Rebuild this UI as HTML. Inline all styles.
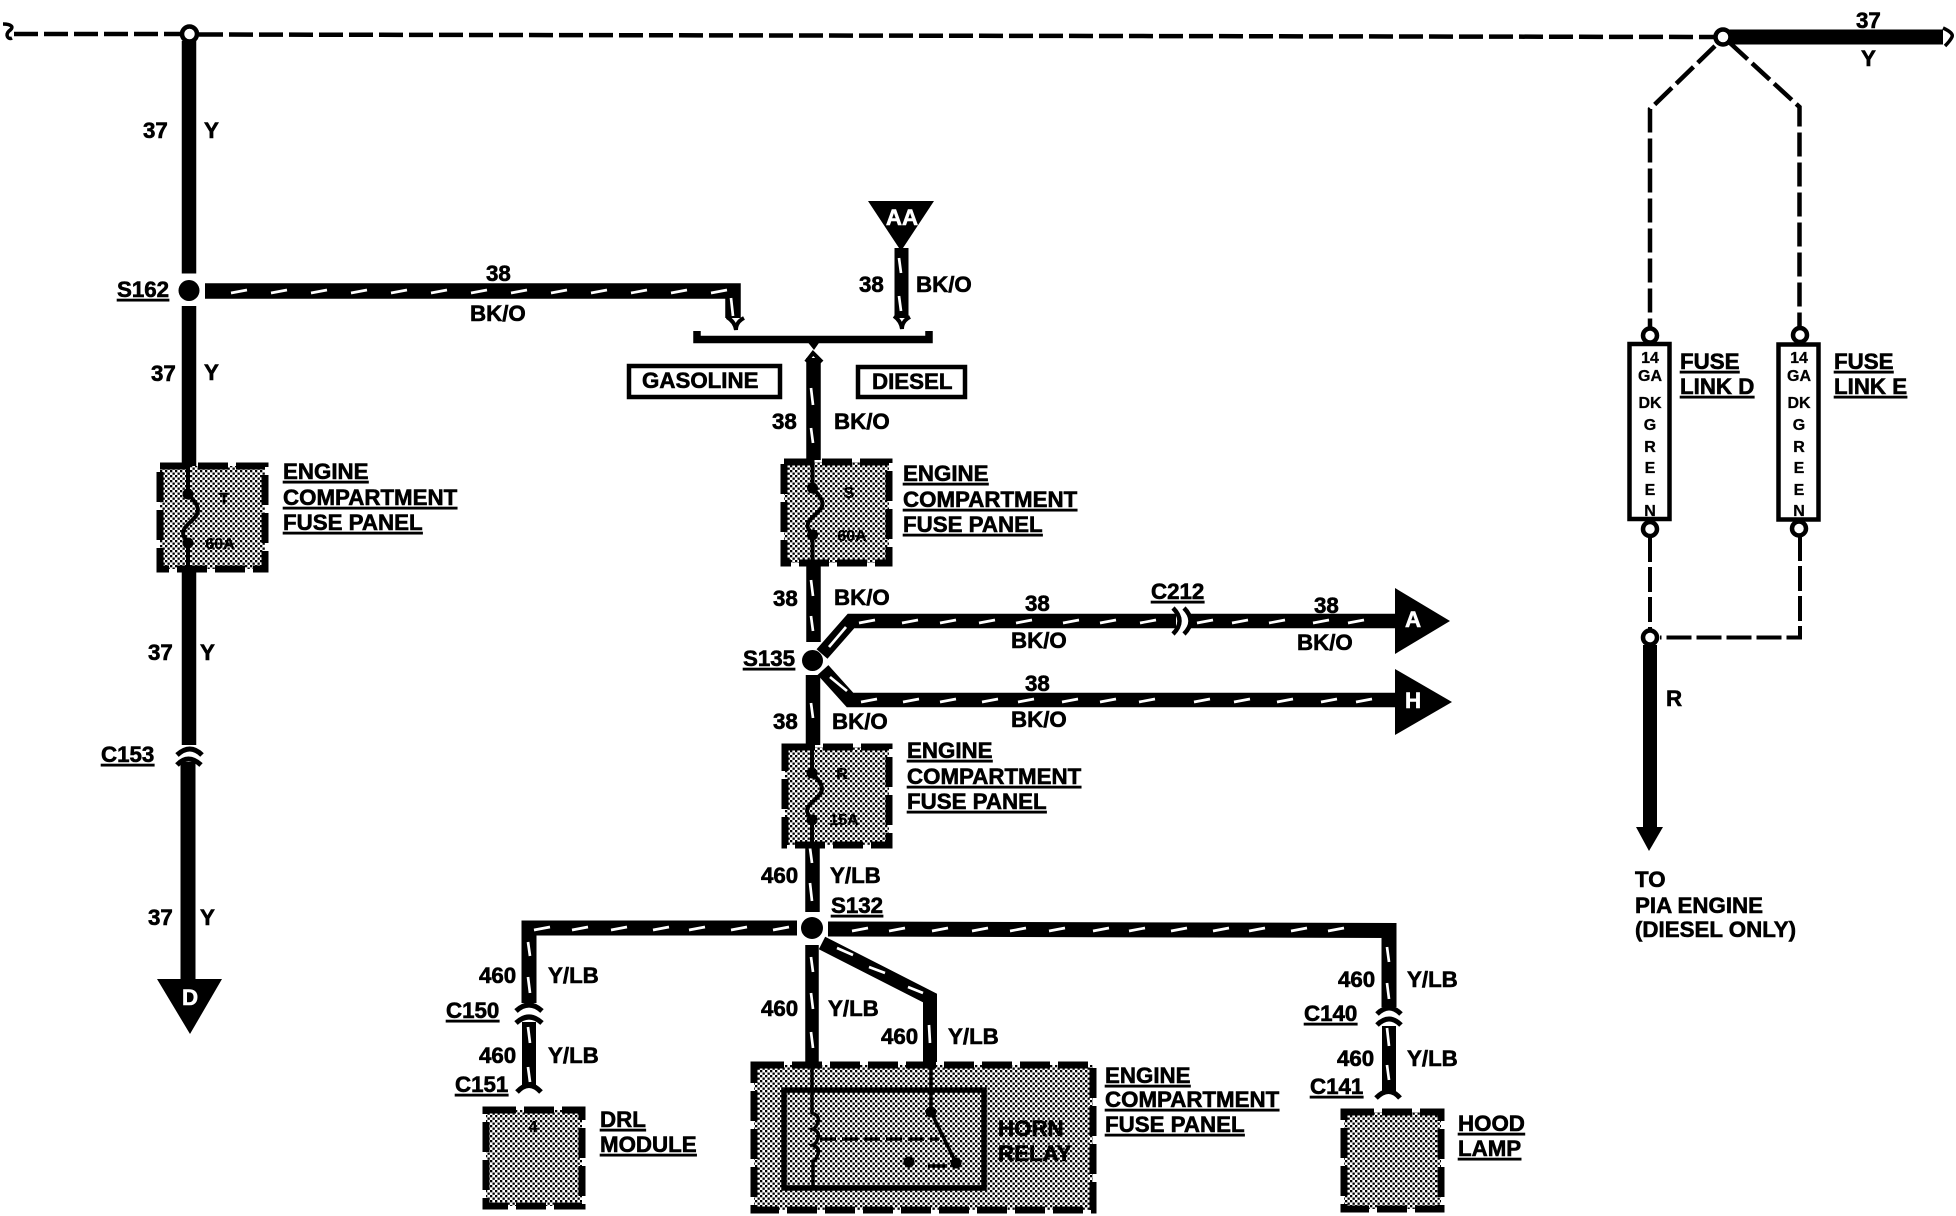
<!DOCTYPE html>
<html><head><meta charset="utf-8"><style>
html,body{margin:0;padding:0;background:#fff;width:1956px;height:1216px;overflow:hidden}
svg{display:block}
text{font-family:"Liberation Sans",sans-serif;font-weight:bold;font-size:22.3px;fill:#000;stroke:#000;stroke-width:.6px}
.u{text-decoration:underline}
.w{fill:#fff;stroke:#fff}
.s{font-size:16px;stroke-width:.3px}
.m{text-anchor:middle}
.k{stroke:#000;fill:none}
.h{stroke:#fff;stroke-width:2.7;fill:none}
.d{stroke:#000;fill:none;stroke-width:4.5;stroke-dasharray:24 6}
.p{fill:url(#dots);stroke:#000;stroke-width:7;stroke-dasharray:30 8}
</style></head><body>
<svg width="1956" height="1216" viewBox="0 0 1956 1216" xmlns="http://www.w3.org/2000/svg">
<defs><pattern id="dots" width="5" height="5" patternUnits="userSpaceOnUse"><rect width="5" height="5" fill="#fff"/><rect width="2.300" height="2.300" fill="#000"/><rect x="2.500" y="2.500" width="2.300" height="2.300" fill="#000"/></pattern></defs>
<rect width="1956" height="1216" fill="#fff"/>

<!-- top bus -->
<path class="k" stroke-width="3.500" d="M3 24C11 24 15 27 9 31C5 35 8 40 12 38"/>
<path class="d" d="M14 34H182"/>
<path class="d" d="M199 34.500L1714 37"/>
<circle cx="189.500" cy="34" r="7.500" fill="#fff" stroke="#000" stroke-width="4.500"/>
<path class="k" stroke-width="15" d="M1729 37H1943"/>
<path class="k" stroke-width="3.500" d="M1943 28Q1954 33 1952 37Q1950 41 1945 46"/>
<circle cx="1723" cy="37" r="7.500" fill="#fff" stroke="#000" stroke-width="4.500"/>
<text x="1856" y="28">37</text><text x="1861" y="66">Y</text>

<!-- left column -->
<path class="k" stroke-width="14.500" d="M189 41V273.500M189 306V466M189 572V745"/>
<path class="k" stroke-width="15" d="M188 762V980"/>
<circle cx="189" cy="290.500" r="10.500"/>
<text x="143" y="138">37</text><text x="204" y="138">Y</text>
<text x="151" y="381">37</text><text x="204" y="380">Y</text>
<text class="u" x="117" y="297">S162</text>
<rect class="p" x="160" y="466" width="105" height="103"/>
<path class="k" stroke-width="4" d="M188 463V494c10 10 12 16 8 22c-6 8-16 12-12 21l4 6V572"/>
<circle cx="188" cy="494" r="5.500"/><circle cx="188" cy="543" r="5.500"/>
<text class="s m" x="224" y="504">T</text><text class="s m" x="220" y="549">60A</text>
<text class="u" x="283" y="479">ENGINE</text><text class="u" x="283" y="505">COMPARTMENT</text><text class="u" x="283" y="530">FUSE PANEL</text>
<text x="148" y="660">37</text><text x="200" y="660">Y</text>
<text class="u" x="101" y="762">C153</text>
<path class="k" stroke-width="5" d="M177 755Q190 743 202 755M177 765Q188 753 201 765"/>
<text x="148" y="925">37</text><text x="200" y="925">Y</text>
<path d="M157 979H222L190 1034Z"/>
<text class="w m" x="190" y="1005">D</text>

<!-- S162 to bracket -->
<path class="k" stroke-width="15.500" d="M205 291H733V318"/>
<path class="h" d="M231 293l16-3m24 3l16-3m24 3l16-3m24 3l16-3m24 3l16-3m24 3l16-3m24 3l16-3m24 3l16-3m24 3l16-3m24 3l16-3m24 3l16-3m24 3l16-3m24 3l16-3"/>
<path class="h" d="M731 298l2 18"/>
<path class="k" stroke-width="4" d="M727 317Q735 322 736 330Q736 322 744 318"/>
<text x="486" y="281">38</text><text x="470" y="321">BK/O</text>

<!-- AA -->
<path d="M868 201H934L901 251Z"/>
<text class="w m" x="902" y="225">AA</text>
<path class="k" stroke-width="14" d="M901.500 248V318"/>
<path class="h" d="M899 258l2 15m-2 23l2 15"/>
<path class="k" stroke-width="4" d="M894 316Q901 321 902 329Q902 321 910 317"/>
<text x="859" y="292">38</text><text x="916" y="292">BK/O</text>

<!-- bracket -->
<path class="k" stroke-width="7.500" d="M697 331V339.500H929V331"/>
<path d="M806 340L814 350L821 340Z"/>

<!-- center column -->
<path class="k" stroke-width="14.500" d="M813.500 358V460M813.500 566V642M813 675V745M812.500 848V912"/>
<path class="k" stroke-width="4" d="M806 362L813 353L822 362"/>
<path class="h" d="M811 388l2 17m-2 23l2 15M811 580l2 16m-2 20l2 15M811 703l2 15M810 848l2 15m-2 20l2 18"/>
<rect x="629" y="366" width="151" height="31" fill="#fff" stroke="#000" stroke-width="4.500"/>
<text x="642" y="388" font-size="21.500">GASOLINE</text>
<rect x="858" y="367" width="107" height="30" fill="#fff" stroke="#000" stroke-width="4.500"/>
<text x="872" y="389">DIESEL</text>
<text x="772" y="429">38</text><text x="834" y="429">BK/O</text>

<rect class="p" x="784" y="462" width="105" height="101"/>
<path class="k" stroke-width="4" d="M812.500 458V488c10 10 12 16 8 21c-6 8-16 12-12 20l4 6V566"/>
<circle cx="812.500" cy="488" r="5.500"/><circle cx="812.500" cy="535" r="5.500"/>
<text class="s m" x="849" y="498">S</text><text class="s m" x="852" y="541">60A</text>
<text class="u" x="903" y="481">ENGINE</text><text class="u" x="903" y="507">COMPARTMENT</text><text class="u" x="903" y="532">FUSE PANEL</text>

<text x="773" y="606">38</text><text x="834" y="605">BK/O</text>
<circle cx="812.500" cy="660.500" r="10.500"/>
<text class="u" x="743" y="666">S135</text>
<text x="773" y="729">38</text><text x="832" y="729">BK/O</text>

<!-- branch A -->
<path class="k" stroke-width="14.500" d="M822 654L851 621H1176M1190 621H1396"/>
<path class="k" stroke-width="4.500" d="M1173 608Q1186 621 1173 634M1184 608Q1197 621 1184 634"/>
<path class="h" d="M829 647L846 627"/>
<path class="h" d="M859 623l16-3m27 3l16-3m22 3l16-3m23 3l16-3m21 3l16-3m31 3l16-3m21 3l16-3m24 3l16-3M1197 623l16-3m19 3l16-3m21 3l16-3m28 3l16-3m19 3l16-3"/>
<path d="M1395 588L1450 621L1395 654Z"/>
<text class="w" x="1405" y="627">A</text>
<text x="1025" y="611">38</text><text x="1011" y="648">BK/O</text>
<text class="u" x="1151" y="599">C212</text>
<text x="1314" y="613">38</text><text x="1297" y="650">BK/O</text>

<!-- branch H -->
<path class="k" stroke-width="14.500" d="M823 670L850 700H1396"/>
<path class="h" d="M830 677L847 691"/>
<path class="h" d="M861 702l16-3m26 3l16-3m21 3l16-3m26 3l16-3m20 3l16-3m28 3l16-3m22 3l16-3m23 3l16-3m39 3l16-3m24 3l16-3m27 3l16-3m28 3l16-3m19 3l16-3"/>
<path d="M1395 669L1452 702L1395 735Z"/>
<text class="w" x="1405" y="708">H</text>
<text x="1025" y="691">38</text><text x="1011" y="727">BK/O</text>

<!-- panel 3 -->
<rect class="p" x="785" y="747" width="104" height="98"/>
<path class="k" stroke-width="4" d="M812 743V773c10 10 12 16 8 21c-6 8-16 12-12 20l4 6V848"/>
<circle cx="812" cy="773" r="5.500"/><circle cx="812" cy="820" r="5.500"/>
<text class="s m" x="842" y="779">R</text><text class="s m" x="844" y="825">15A</text>
<text class="u" x="907" y="758">ENGINE</text><text class="u" x="907" y="784">COMPARTMENT</text><text class="u" x="907" y="809">FUSE PANEL</text>

<text x="761" y="883">460</text><text x="830" y="883">Y/LB</text>
<text class="u" x="831" y="913">S132</text>
<circle cx="812" cy="928" r="11"/>

<!-- left drop -->
<path class="k" stroke-width="15" d="M797 928H529V1003"/>
<path class="k" stroke-width="14" d="M529 1022V1086"/>
<path class="h" d="M534 930l16-3m22 3l16-3m23 3l16-3m26 3l16-3m20 3l16-3m26 3l16-3m26 3l16-3"/>
<path class="h" d="M528 942l2 14m-2 21l2 16m-2 34l2 16m-2 24l2 15"/>
<path class="k" stroke-width="5" d="M516 1011Q529 999 542 1011M516 1023Q529 1011 542 1023M517 1092Q529 1079 541 1092"/>
<text x="479" y="983">460</text><text x="548" y="983">Y/LB</text>
<text class="u" x="446" y="1018">C150</text>
<text x="479" y="1063">460</text><text x="548" y="1063">Y/LB</text>
<text class="u" x="455" y="1092">C151</text>
<rect class="p" x="486" y="1110" width="96" height="96"/>
<text class="s m" x="533" y="1132">4</text>
<text class="u" x="600" y="1127">DRL</text><text class="u" x="600" y="1152">MODULE</text>

<!-- right drop -->
<path class="k" stroke-width="15" d="M828 929L1389 930.500V1007"/>
<path class="k" stroke-width="14" d="M1389 1026V1093"/>
<path class="h" d="M852 931l16-3m21 3l16-3m27 3l16-3m24 3l16-3m22 3l16-3m23 3l16-3m28 3l16-3m20 3l16-3m26 3l16-3m26 3l16-3m20 3l16-3m26 3l16-3m21 3l16-3"/>
<path class="h" d="M1387 947l2 15m-2 21l2 16m-2 29l2 18m-2 19l2 15"/>
<path class="k" stroke-width="5" d="M1377 1014Q1389 1002 1401 1014M1377 1025Q1389 1013 1401 1025M1376 1098Q1389 1085 1400 1098"/>
<text x="1338" y="987">460</text><text x="1407" y="987">Y/LB</text>
<text class="u" x="1304" y="1021">C140</text>
<text x="1337" y="1066">460</text><text x="1407" y="1066">Y/LB</text>
<text class="u" x="1310" y="1094">C141</text>
<rect class="p" x="1344" y="1112" width="97" height="97"/>
<text class="u" x="1458" y="1131">HOOD</text><text class="u" x="1458" y="1156">LAMP</text>

<!-- center bottom -->
<path class="k" stroke-width="13.500" d="M812 945V1062"/>
<path class="h" d="M811 957l2 15m-2 21l2 16m-2 23l2 16"/>
<path class="k" stroke-width="14" d="M822 943L930 998V1062"/>
<path class="h" d="M837 948l16 7m16 12l16 6m23 14l15 6M929 1025l1 18"/>
<text x="761" y="1016">460</text><text x="828" y="1016">Y/LB</text>
<text x="881" y="1044">460</text><text x="948" y="1044">Y/LB</text>
<rect class="p" x="754" y="1065" width="339" height="145"/>
<rect x="784" y="1090" width="200" height="98" fill="none" stroke="#000" stroke-width="5.500"/>
<path class="k" stroke-width="3.500" d="M812 1061V1113q8 3 6 9t-5 7q7 3 5 9t-5 7q7 3 5 9t-5 7V1190"/>
<path class="k" stroke-width="3.500" d="M931 1061V1112L956 1163"/>
<circle cx="931" cy="1112" r="5.500"/><circle cx="956" cy="1163" r="5.500"/><circle cx="909" cy="1162" r="5.500"/>
<path class="k" stroke-width="3.500" stroke-dasharray="16 6" d="M820 1139H939"/>
<path class="k" stroke-width="3.500" d="M928 1166H947"/>
<text x="998" y="1136" font-size="21">HORN</text><text x="998" y="1161" font-size="21">RELAY</text>
<text class="u" x="1105" y="1083">ENGINE</text><text class="u" x="1105" y="1107">COMPARTMENT</text><text class="u" x="1105" y="1132">FUSE PANEL</text>

<!-- fuse links -->
<path class="d" d="M1715 46L1650 109V327"/>
<path class="d" d="M1730 43L1799.500 107V327"/>
<circle cx="1650" cy="335.500" r="7" fill="#fff" stroke="#000" stroke-width="4.500"/>
<circle cx="1800" cy="335" r="7" fill="#fff" stroke="#000" stroke-width="4.500"/>
<rect x="1629.500" y="344" width="40" height="175" fill="#fff" stroke="#000" stroke-width="4.500"/>
<rect x="1778.500" y="344.500" width="40" height="175" fill="#fff" stroke="#000" stroke-width="4.500"/>
<circle cx="1650" cy="529" r="7" fill="#fff" stroke="#000" stroke-width="4.500"/>
<circle cx="1799" cy="528.500" r="7" fill="#fff" stroke="#000" stroke-width="4.500"/>
<text class="s m" x="1650" y="363">14</text><text class="s m" x="1650" y="381">GA</text><text class="s m" x="1650" y="408">DK</text><text class="s m" x="1650" y="430">G</text><text class="s m" x="1650" y="452">R</text><text class="s m" x="1650" y="473">E</text><text class="s m" x="1650" y="495">E</text><text class="s m" x="1650" y="516">N</text>
<text class="s m" x="1799" y="363">14</text><text class="s m" x="1799" y="381">GA</text><text class="s m" x="1799" y="408">DK</text><text class="s m" x="1799" y="430">G</text><text class="s m" x="1799" y="452">R</text><text class="s m" x="1799" y="473">E</text><text class="s m" x="1799" y="495">E</text><text class="s m" x="1799" y="516">N</text>
<text class="u" x="1680" y="369">FUSE</text><text class="u" x="1680" y="394">LINK D</text>
<text class="u" x="1834" y="369">FUSE</text><text class="u" x="1834" y="394">LINK E</text>

<path class="k" stroke-width="4" stroke-dasharray="25 5" d="M1650 537V630"/>
<path class="k" stroke-width="4" stroke-dasharray="25 5" d="M1800 536V637.500H1660"/>
<circle cx="1650" cy="637.500" r="7" fill="#fff" stroke="#000" stroke-width="4.500"/>
<path class="k" stroke-width="14" d="M1650 645V828"/>
<path d="M1636 827H1663L1649 851Z"/>
<text x="1666" y="706">R</text>
<text x="1635" y="887">TO</text><text x="1635" y="913">PIA ENGINE</text><text x="1635" y="937">(DIESEL ONLY)</text>
</svg>
</body></html>
